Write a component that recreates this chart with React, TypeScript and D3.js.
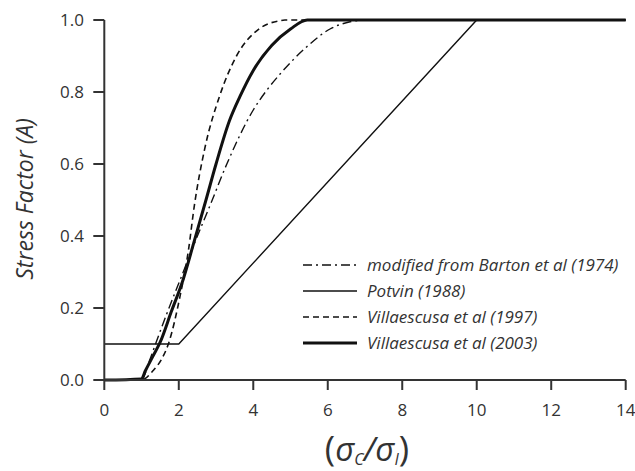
import React from "react";
import * as d3 from "d3";

const xTicks = [0, 2, 4, 6, 8, 10, 12, 14];
const yTicks = [0, 0.2, 0.4, 0.6, 0.8, 1.0];

const bartonX = [0, 1.0, 1.2, 1.41, 1.7, 2.12, 2.5, 2.84, 3.29, 4.0, 4.4, 4.72, 5.43, 6.06, 6.6, 7.0, 14];
const bartonA = [0, 0, 0.05, 0.11, 0.19, 0.3, 0.4, 0.485, 0.6, 0.75, 0.81, 0.85, 0.925, 0.975, 0.995, 1.0, 1.0];

const potvinX = [0, 2, 10, 14];
const potvinA = [0.1, 0.1, 1.0, 1.0];

const v1997X = [0, 1.0, 1.3, 1.55, 1.72, 2.03, 2.26, 2.42, 2.7, 3.1, 3.55, 4.18, 4.72, 4.85, 14];
const v1997A = [0, 0, 0.025, 0.06, 0.1, 0.231, 0.361, 0.486, 0.644, 0.79, 0.9, 0.977, 0.998, 1.0, 1.0];

const v2003X = [0, 1.0, 1.1, 1.3, 1.5, 1.8, 2.12, 2.4, 2.73, 3.0, 3.36, 3.64, 4.0, 4.5, 5.0, 5.45, 14];
const v2003A = [0, 0.003, 0.025, 0.065, 0.105, 0.19, 0.28, 0.38, 0.5, 0.6, 0.72, 0.787, 0.86, 0.93, 0.975, 1.0, 1.0];

const legendLabels = [
  "modified from Barton et al (1974)",
  "Potvin (1988)",
  "Villaescusa et al (1997)",
  "Villaescusa et al (2003)",
];

const W = 635;
const H = 471;
const FONT = "'Open Sans', 'DejaVu Sans', sans-serif";

export default function App() {
  const x = d3.scaleLinear().domain([0, 14]).range([104.3, 625.7]);
  const y = d3.scaleLinear().domain([0, 1]).range([380, 20]);

  const line = d3
    .line<[number, number]>()
    .x((d) => x(d[0]))
    .y((d) => y(d[1]))
    .curve(d3.curveMonotoneX);
  const lineStraight = d3
    .line<[number, number]>()
    .x((d) => x(d[0]))
    .y((d) => y(d[1]));

  const zip = (xs: number[], ys: number[]) => xs.map((v, i) => [v, ys[i]] as [number, number]);

  const series = [
    { d: line(zip(bartonX, bartonA)), w: 1.4, dash: "9,4,2,4" },
    { d: lineStraight(zip(potvinX, potvinA)), w: 1.4, dash: undefined },
    { d: line(zip(v1997X, v1997A)), w: 1.6, dash: "6,4" },
    { d: line(zip(v2003X, v2003A)), w: 3, dash: undefined },
  ];

  const stroke = "#111";
  const axisColor = "#333";

  return (
    <svg
      width={W}
      height={H}
      style={{ position: "absolute", left: 0, top: 0, background: "#fff" }}
    >
      <rect x={0} y={0} width={W} height={H} fill="#fff" />
      {series.map((s, i) => (
        <path
          key={i}
          d={s.d || ""}
          fill="none"
          stroke={stroke}
          strokeWidth={s.w}
          strokeDasharray={s.dash}
        />
      ))}
      <line x1={x(0)} x2={x(14)} y1={y(0)} y2={y(0)} stroke={axisColor} strokeWidth={2} />
      <line x1={x(0)} x2={x(0)} y1={y(0)} y2={y(1)} stroke={axisColor} strokeWidth={2} />
      {xTicks.map((t) => (
        <g key={"x" + t}>
          <line x1={x(t)} x2={x(t)} y1={y(0)} y2={y(0) + 10} stroke={axisColor} strokeWidth={2} />
          <text
            x={x(t)}
            y={416}
            textAnchor="middle"
            fontFamily={FONT}
            fontSize={17}
            fill="#333"
          >
            {t}
          </text>
        </g>
      ))}
      {yTicks.map((t) => (
        <g key={"y" + t}>
          <line x1={x(0) - 11} x2={x(0)} y1={y(t)} y2={y(t)} stroke={axisColor} strokeWidth={2} />
          <text
            x={84}
            y={y(t) + 6}
            textAnchor="end"
            fontFamily={FONT}
            fontSize={17}
            fill="#333"
          >
            {t.toFixed(1)}
          </text>
        </g>
      ))}
      <text
        transform={`translate(33,199) rotate(-90)`}
        textAnchor="middle"
        fontFamily={FONT}
        fontSize={23}
        fontStyle="italic"
        fill="#333"
      >
        Stress Factor (A)
      </text>
      <text
        x={367}
        y={460.5}
        textAnchor="middle"
        fontFamily={FONT}
        fill="#333"
        fontStyle="italic"
      >
        <tspan fontSize={35} fontStyle="normal">(</tspan>
        <tspan fontSize={33}>σ</tspan>
        <tspan fontSize={16} dy={4}>C</tspan>
        <tspan fontSize={33} dy={-4}>/</tspan>
        <tspan fontSize={33}>σ</tspan>
        <tspan fontSize={16} dy={4}>I</tspan>
        <tspan fontSize={35} dy={-4} fontStyle="normal">)</tspan>
      </text>
      {legendLabels.map((lab, i) => {
        const cy = 265 + i * 26;
        const s = series[i];
        return (
          <g key={lab}>
            <line
              x1={303}
              x2={357}
              y1={cy}
              y2={cy}
              stroke={stroke}
              strokeWidth={s.w}
              strokeDasharray={s.dash}
            />
            <text
              x={367}
              y={cy + 6}
              fontFamily={FONT}
              fontSize={17}
              fontStyle="italic"
              fill="#333"
            >
              {lab}
            </text>
          </g>
        );
      })}
    </svg>
  );
}
